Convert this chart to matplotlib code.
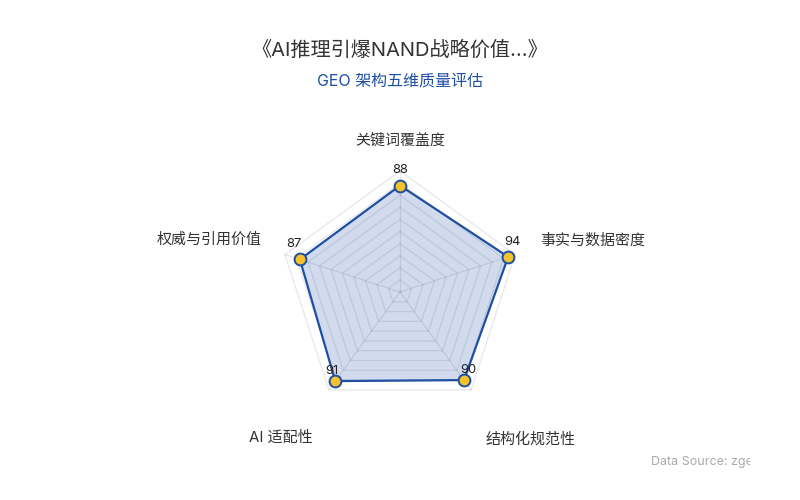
import numpy as np
import matplotlib
matplotlib.use("Agg")
import matplotlib.pyplot as plt
from matplotlib.patches import Rectangle

plt.rcParams['font.family'] = ['Inter', 'Noto Sans CJK SC', 'DejaVu Sans']

# ---- data ----
title = "《AI推理引爆NAND战略价值...》"
subtitle = "GEO 架构五维质量评估"
indicators = ["关键词覆盖度", "事实与数据密度", "结构化规范性", "AI 适配性", "权威与引用价值"]
values = [88, 94, 90, 91, 87]
max_value = 100
split_number = 10
source_text = "Data Source: zgeo"

# ---- layout ----
W, H = 800, 500
cx_px, cy_px = 400, 292      # radar centre in pixels (from top-left)
R_px = 121                    # pixels for max_value
scale = R_px / max_value

fig = plt.figure(figsize=(W / 100, H / 100), dpi=100)
ax = fig.add_axes([0, 0, 1, 1])
ax.set_xlim(-cx_px / scale, (W - cx_px) / scale)
ax.set_ylim(-(H - cy_px) / scale, cy_px / scale)
ax.axis('off')

n = len(indicators)
angles = np.pi / 2 - np.arange(n) * 2 * np.pi / n
cosA, sinA = np.cos(angles), np.sin(angles)

grid_kw = dict(color='#3a4a6a', alpha=0.13, lw=0.9, zorder=3)
for k in range(1, split_number + 1):
    r = max_value * k / split_number
    xs = np.append(r * cosA, r * cosA[0])
    ys = np.append(r * sinA, r * sinA[0])
    ax.plot(xs, ys, **grid_kw)
for i in range(n):
    ax.plot([0, max_value * cosA[i]], [0, max_value * sinA[i]], **grid_kw)

vals = np.array(values, dtype=float)
px = vals * cosA
py = vals * sinA
ax.fill(np.append(px, px[0]), np.append(py, py[0]), color='#2f5bb0', alpha=0.22, lw=0, zorder=2)
ax.plot(np.append(px, px[0]), np.append(py, py[0]), color='#1f4fa3', lw=1.6, zorder=4)
ax.plot(px, py, 'o', ms=8.5, mfc='#f4c22b', mec='#1f4fa3', mew=1.4, zorder=5)

value_nudges = [(0, 16), (4, 15), (4, 10), (-3, 10), (-6, 15)]   # pixels
for i, v in enumerate(values):
    ax.annotate(str(v), (px[i], py[i]), xytext=value_nudges[i], textcoords='offset pixels',
                ha='center', va='center', fontsize=9.3, color='#222222', zorder=6)

# axis names: anchored at radius + gap, with small pixel nudges
name_r = 136 / scale
nudges = [(0, 8), (11, 9), (6, -30), (-7, -29), (-9, 10)]   # pixels (x right, y up)
for i, name in enumerate(indicators):
    x = name_r * cosA[i]
    y = name_r * sinA[i]
    c = cosA[i]
    ha = 'center' if abs(c) < 1e-6 else ('left' if c > 0 else 'right')
    s = sinA[i]
    va = 'bottom' if s > 0.9 else ('top' if s < -0.5 else 'center')
    ax.annotate(name, (x, y), xytext=nudges[i], textcoords='offset pixels',
                ha=ha, va=va, fontsize=10.8, color='#333333',
                family=['Inter', 'Noto Sans CJK SC'])

fig.text(0.5, 1 - 50 / H, title, ha='center', va='center', fontsize=14.5, color='#333333',
         family=['Inter', 'Noto Sans CJK SC'])
fig.text(0.5, 1 - 81 / H, subtitle, ha='center', va='center', fontsize=11.5, color='#1f4fa3',
         family=['Inter', 'Noto Sans CJK SC'])

t = fig.text(651 / W, 1 - 462 / H, source_text, ha='left', va='center', fontsize=9,
             color='#aaaaaa', family=['Inter', 'Noto Sans CJK SC'])
clip = Rectangle((0, 0), 750, H, transform=None, facecolor='none', edgecolor='none')
fig.patches.append(clip)
t.set_clip_path(clip)

fig.savefig('out.png', dpi=100, facecolor='white')
